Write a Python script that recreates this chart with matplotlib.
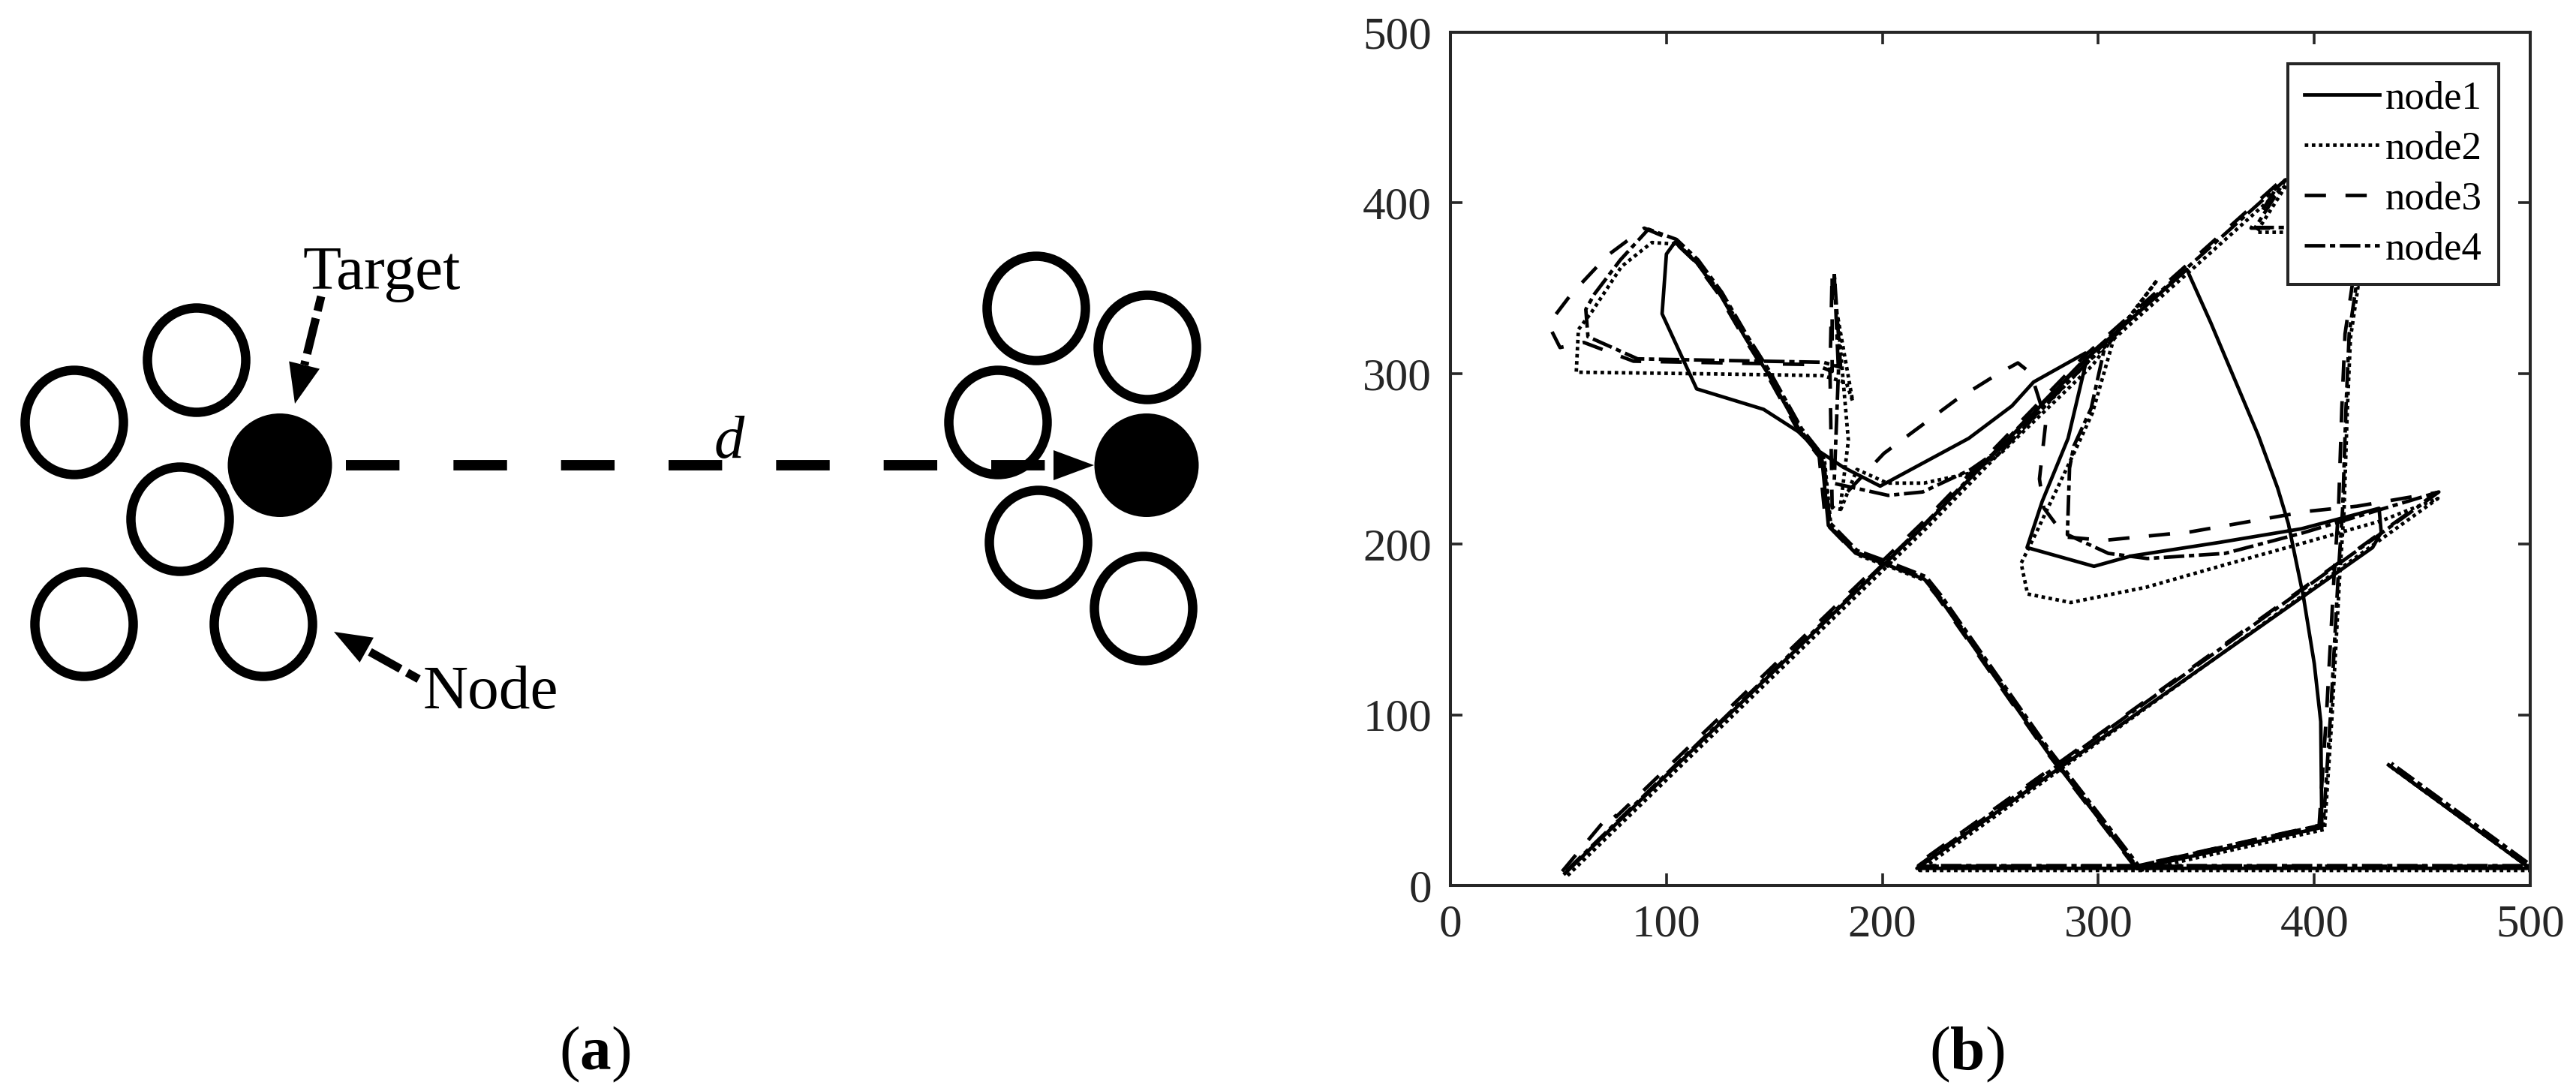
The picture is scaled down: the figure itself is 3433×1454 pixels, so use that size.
import numpy as np
import matplotlib
matplotlib.use('Agg')
import matplotlib.pyplot as plt
from matplotlib.patches import Ellipse, Polygon
import matplotlib.transforms as mtransforms

plt.rcParams['font.family'] = ['Liberation Serif', 'DejaVu Serif']
plt.rcParams['mathtext.fontset'] = 'custom'
plt.rcParams['mathtext.rm'] = 'Liberation Serif'
plt.rcParams['mathtext.it'] = 'Liberation Serif:italic'
plt.rcParams['mathtext.bf'] = 'Liberation Serif:bold'

# ---- panel (a) layout, in figure pixels ----
open_nodes = [(99, 563), (262, 480), (240, 692), (112, 832), (351, 832),
              (1381, 411), (1529, 463), (1330, 563), (1384, 723), (1524, 811)]
targets = [(373, 620), (1528, 620)]
d_arrow = [(461, 620), (1458, 620)]
target_arrow = [(428, 395), (393, 538)]
node_arrow = [(558, 905), (445, 842)]

# ---- panel (b) trajectories (x, y) ----
diag_up = [(53, 7), (219.5, 211), (294.6, 308.8), (341, 361)]
start_hook = [(53, 7), (76, 42), (78, 39)]
top_turn = [(341, 361), (386, 412), (372, 384), (392, 384), (419, 352), (415.5, 322),
            (414, 278), (412.5, 220), (410.5, 182), (407, 101), (403.5, 34)]
node1_branch = [(341, 361), (352, 330), (361, 303), (369, 279), (374, 264), (383, 233),
                (388, 212), (395, 169), (400, 130), (403, 96), (403.5, 34)]
return_left = [(403.5, 34), (318, 10), (276, 79), (226.5, 168.4), (219.5, 179.4),
               (200, 189), (187.6, 194.7), (175, 211)]
climb = [(175, 211), (172, 250), (162, 266), (147, 300), (137, 320), (125, 346),
         (114, 365), (104, 377)]
loop1 = [(104, 377), (100, 370), (98, 335), (114, 291), (145, 279), (161, 266),
         (170, 255), (182, 245)]
loop2 = [(104, 377), (92, 378), (78, 364), (64, 337), (58, 327), (57, 302), (120, 301),
         (171, 300), (182, 296), (185, 285), (178, 335), (183, 262), (179, 220)]
loop3 = [(104, 377), (91, 384), (74, 368), (57, 345), (48, 330), (48, 324), (52, 314),
         (63, 317), (86, 306), (170, 304), (178, 300), (178, 358), (177, 300), (178, 220)]
loop4 = [(104, 377), (91, 383), (78, 365), (66, 345), (62, 336), (63, 320), (86, 307),
         (172, 305), (180, 302), (177, 358), (179, 300), (177, 234)]
right1 = [(182, 245), (199, 234), (240, 262), (260, 281), (270, 295), (294, 312),
          (294, 305), (286, 262), (274, 225), (267, 198), (298, 187), (315, 193),
          (356, 201), (394, 209), (430, 221), (431, 207), (427, 198)]
right2 = [(179, 220), (187, 245), (201, 237), (218, 237), (240, 243), (254, 255),
          (296, 306), (326, 356), (306, 322), (296, 278), (288, 256), (270, 208),
          (263, 190), (266, 172), (286, 167), (321, 176), (357, 189), (394, 202),
          (430, 215), (456, 228)]
right3 = [(178, 220), (190, 236), (202, 252), (218, 267), (235, 283), (254, 298),
          (264, 305), (270, 299), (277, 271), (274, 237), (276, 220), (286, 203),
          (304, 201), (344, 206), (398, 218), (421, 221), (458, 229)]
right4 = [(177, 234), (202, 227), (218, 229), (240, 242), (256, 256), (296, 307),
          (303, 318), (296, 278), (288, 256), (286, 243), (285, 204), (304, 193),
          (322, 190), (358, 193), (394, 205), (457, 229)]
finish = [(216, 10), (500, 10), (435, 70)]

paths = {
    'node1': diag_up + node1_branch + return_left + climb + loop1 + right1 + finish,
    'node2': diag_up + top_turn + return_left + climb + loop2 + right2 + finish,
    'node3': start_hook + diag_up[1:] + top_turn + return_left + climb + loop3 + right3 + finish,
    'node4': diag_up + top_turn + return_left + climb + loop4 + right4 + finish,
}
styles = {'node1': '-', 'node2': (0, (1, 1)), 'node3': (0, (6, 5.5)),
          'node4': (0, (5.8, 1.3, 1.5, 1.3))}
# small display offsets so that overlapping tracks look heavier, as in the original
shift_pt = {'node1': (0, 0), 'node2': (1.3, -1.0), 'node3': (-1.3, 1.0), 'node4': (0.7, 1.3)}

W, H, DPI = 3433, 1454, 200
fig = plt.figure(figsize=(W / DPI, H / DPI), dpi=DPI)
axc = '#262626'

# ---------- (a) ----------
axa = fig.add_axes([0, 0, 1, 1])
axa.set_xlim(0, W)
axa.set_ylim(H, 0)
axa.axis('off')

for c in open_nodes:
    axa.add_patch(Ellipse(c, 131, 139, fill=False, ec='k', lw=4.5))
for c in targets:
    axa.add_patch(Ellipse(c, 139, 138, fc='k', ec='none'))


def dashed_arrow(ax, tail, tip, lw, dashes, head_len, head_half):
    tail = np.array(tail, float)
    tip = np.array(tip, float)
    u = (tip - tail) / np.linalg.norm(tip - tail)
    n = np.array([-u[1], u[0]])
    base = tip - head_len * u
    ax.plot([tail[0], base[0]], [tail[1], base[1]], color='k', lw=lw,
            linestyle=dashes, solid_capstyle='butt', dash_capstyle='butt')
    ax.add_patch(Polygon([tip, base + head_half * n, base - head_half * n],
                         closed=True, fc='k', ec='none'))


dashed_arrow(axa, d_arrow[0], d_arrow[1], 5.0, (0, (5.14, 5.18)), 54, 20)
dashed_arrow(axa, target_arrow[0], target_arrow[1], 4.0, (0, (1.8, 0.9, 4.4, 0.9)), 53, 21)
dashed_arrow(axa, node_arrow[0], node_arrow[1], 4.0, (0, (1.6, 0.9, 4.2, 0.9)), 50, 19)

axa.text(403, 385, 'Target', fontsize=30, ha='left', va='baseline')
axa.text(564, 944, 'Node', fontsize=30, ha='left', va='baseline')
axa.text(972, 610, 'd', fontsize=29, style='italic', ha='center', va='baseline')
axa.text(793, 1425, r'($\mathbf{a}$)', fontsize=30, ha='center', va='baseline')
axa.text(2621, 1425, r'($\mathbf{b}$)', fontsize=30, ha='center', va='baseline')

# ---------- (b) ----------
ax = fig.add_axes([1933 / W, 1 - 1180 / H, 1439 / W, 1137 / H])
for name, pts in paths.items():
    xy = np.array(pts)
    dx, dy = shift_pt[name]
    tr = mtransforms.offset_copy(ax.transData, fig=fig, x=dx, y=dy, units='points')
    ax.plot(xy[:, 0], xy[:, 1], color='k', lw=1.7, linestyle=styles[name],
            dash_capstyle='butt', transform=tr, label=name)

ax.set_xlim(0, 500)
ax.set_ylim(0, 500)
ax.set_xticks(range(0, 501, 100))
ax.set_yticks(range(0, 501, 100))
ax.tick_params(direction='in', length=5.8, width=1.3, top=True, right=True,
               labelsize=22, pad=9, colors=axc)
for s in ax.spines.values():
    s.set_linewidth(1.45)
    s.set_color(axc)

leg = ax.legend(loc='upper right', bbox_to_anchor=(0.9708, 0.9631), borderaxespad=0,
                fontsize=19, handlelength=1.9, handletextpad=0.15, labelspacing=0.365,
                borderpad=0.42, fancybox=False, framealpha=1)
leg.get_frame().set_edgecolor(axc)
leg.get_frame().set_linewidth(1.45)

fig.savefig('out.png', dpi=DPI)
